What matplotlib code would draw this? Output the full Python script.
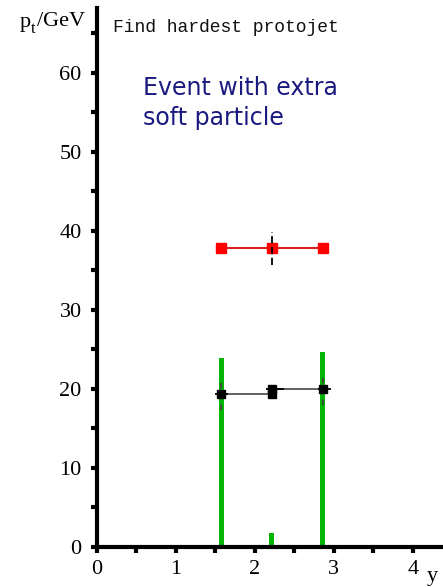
import matplotlib
matplotlib.use("Agg")
import matplotlib.pyplot as plt
from matplotlib.ticker import MultipleLocator

# Data
particle_y = [1.575, 2.215, 2.86]
particle_pt = [23.9, 1.8, 24.7]

red_y = [1.575, 2.215, 2.86]
red_pt = [37.8, 37.8, 37.8]
red_err_x = [2.215]
red_err_lo = [35.7]
red_err_hi = [39.9]

jetA_y = [1.575, 2.215]
jetA_pt = [19.3, 19.3]
jetB_y = [2.215, 2.86]
jetB_pt = [20.0, 20.0]
black_err_x = [1.575, 2.86]
black_err_lo = [17.3, 18.0]
black_err_hi = [21.3, 22.0]

xticks = [0, 1, 2, 3, 4]
yticks = [0, 10, 20, 30, 40, 50, 60]

fig = plt.figure(figsize=(4.43, 5.87), dpi=100)
ax = fig.add_axes([97/443, 40/587, 345/443, 539/587])
ax.set_xlim(0, 4.37)
ax.set_ylim(0, 68.2)

green = "#00b400"
ax.bar(particle_y, particle_pt, width=0.065, color=green, zorder=2)

# red protojet
ax.plot(red_y, red_pt, color="#d42020", lw=1.5, zorder=3)
ax.plot(red_y, red_pt, ls="none", marker="s", ms=7, color="#ff0000", zorder=4)
ax.vlines(red_err_x, red_err_lo, red_err_hi, colors="black", lw=1.3,
          linestyles=(0, (4, 2)), zorder=5)

# black protojets
ax.vlines(black_err_x, black_err_lo, black_err_hi, colors="#444444", lw=1.3,
          linestyles=(0, (3, 3)), zorder=3)
ax.plot(jetA_y, jetA_pt, color="#555555", lw=1.3, zorder=4)
ax.plot(jetB_y, jetB_pt, color="#555555", lw=1.3, zorder=4)
ax.hlines([jetA_pt[0], jetB_pt[1]], [jetA_y[0] - 0.08, jetB_y[1] - 0.06],
          [jetA_y[0] + 0.08, jetB_y[1] + 0.1], colors="black", lw=1.3, zorder=4)
ax.hlines([jetB_pt[0]], [jetB_y[0] - 0.08], [jetB_y[0] + 0.15],
          colors="black", lw=1.3, zorder=4)
ax.plot(jetA_y, jetA_pt, ls="none", marker="s", ms=6, color="black", zorder=5)
ax.plot(jetB_y, jetB_pt, ls="none", marker="s", ms=6, color="black", zorder=5)

for s in ["top", "right"]:
    ax.spines[s].set_visible(False)
for s in ["left", "bottom"]:
    ax.spines[s].set_linewidth(3)

ax.set_xticks(xticks)
ax.set_yticks(yticks)
ax.xaxis.set_minor_locator(MultipleLocator(0.5))
ax.yaxis.set_minor_locator(MultipleLocator(5))
ax.tick_params(which="both", direction="out", length=4, width=3, labelsize=16)
ax.tick_params(axis="x", which="both", pad=5)
ax.tick_params(axis="y", which="both", pad=7)
for lab in ax.get_xticklabels() + ax.get_yticklabels():
    lab.set_fontfamily("Liberation Serif")

fig.text(20/443, 1 - 22/587, "p", fontsize=16,
         family="Liberation Serif", va="center", ha="left")
fig.text(31/443, 1 - 29/587, "t", fontsize=12,
         family="Liberation Serif", va="center", ha="left")
fig.text(37/443, 1 - 22/587, "/GeV", fontsize=16,
         family="Liberation Serif", va="center", ha="left")
fig.text(427/443, 1 - 577/587, "y", fontsize=16, family="Liberation Serif",
         va="center", ha="left")
fig.text(113/443, 1 - 27/587, "Find hardest protojet", fontsize=13,
         family="Liberation Mono", va="center", ha="left", color="#111111")
fig.text(143/443, 1 - 76/587, "Event with extra\nsoft particle", fontsize=17,
         family="DejaVu Sans", va="top", ha="left", color="#1a1a80",
         linespacing=1.3)

fig.savefig("out.png", dpi=100)
